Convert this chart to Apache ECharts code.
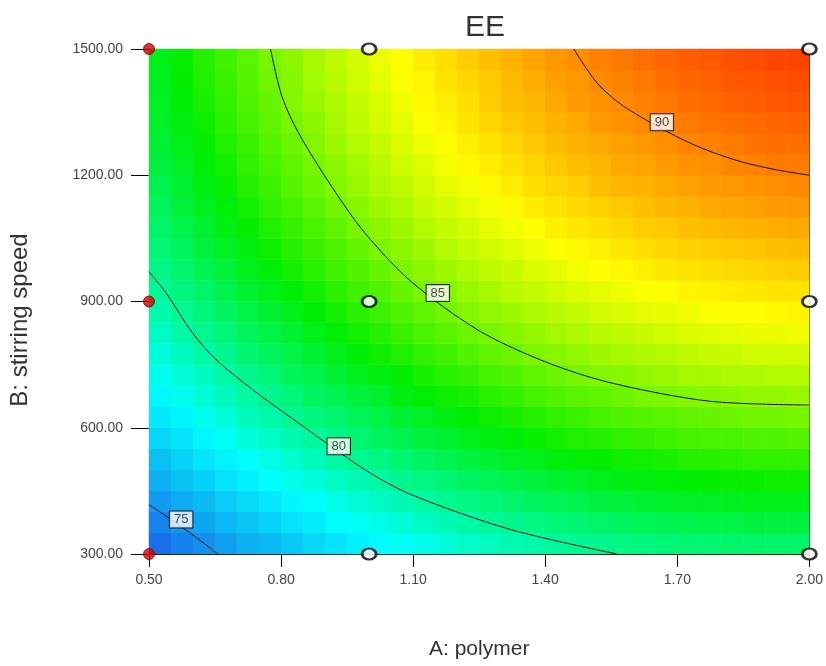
<!DOCTYPE html>
<html lang="en">
<head>
<meta charset="utf-8">
<title>EE</title>
<style>
    html, body { margin: 0; padding: 0; background: #ffffff; }
    #main { width: 826px; height: 666px; }
</style>
</head>
<body>
<div id="main"></div>
<script src="https://cdn.jsdelivr.net/npm/echarts@6/dist/echarts.min.js"></script>
<script>
    // cell centres of the response grid (A: polymer, B: stirring speed)
    const polymerMid = [0.525, 0.575, 0.625, 0.675, 0.725, 0.775, 0.825, 0.875, 0.925, 0.975,
        1.025, 1.075, 1.125, 1.175, 1.225, 1.275, 1.325, 1.375, 1.425, 1.475,
        1.525, 1.575, 1.625, 1.675, 1.725, 1.775, 1.825, 1.875, 1.925, 1.975];
    const speedMid = [325, 375, 425, 475, 525, 575, 625, 675, 725, 775, 825, 875,
        925, 975, 1025, 1075, 1125, 1175, 1225, 1275, 1325, 1375, 1425, 1475];

    const eeRows = [
        [74.1, 74.6, 75.0, 75.4, 75.9, 76.2, 76.6, 77.0, 77.3, 77.7, 78.0, 78.3, 78.5, 78.8, 79.1, 79.3, 79.5, 79.7, 79.9, 80.1, 80.2, 80.4, 80.5, 80.6, 80.7, 80.7, 80.8, 80.9, 80.9, 80.9],
        [74.7, 75.2, 75.6, 76.1, 76.5, 76.9, 77.3, 77.6, 78.0, 78.3, 78.6, 78.9, 79.2, 79.5, 79.7, 80.0, 80.2, 80.4, 80.6, 80.7, 80.9, 81.0, 81.2, 81.3, 81.4, 81.5, 81.5, 81.6, 81.6, 81.6],
        [75.3, 75.8, 76.2, 76.7, 77.1, 77.5, 77.9, 78.2, 78.6, 78.9, 79.2, 79.5, 79.8, 80.1, 80.4, 80.6, 80.8, 81.0, 81.2, 81.4, 81.6, 81.7, 81.8, 82.0, 82.1, 82.1, 82.2, 82.3, 82.3, 82.3],
        [75.9, 76.4, 76.8, 77.3, 77.7, 78.1, 78.5, 78.8, 79.2, 79.5, 79.8, 80.2, 80.4, 80.7, 81.0, 81.2, 81.5, 81.7, 81.9, 82.0, 82.2, 82.4, 82.5, 82.6, 82.7, 82.8, 82.9, 82.9, 83.0, 83.0],
        [76.4, 76.9, 77.4, 77.8, 78.2, 78.6, 79.0, 79.4, 79.8, 80.1, 80.4, 80.7, 81.0, 81.3, 81.6, 81.8, 82.1, 82.3, 82.5, 82.7, 82.8, 83.0, 83.1, 83.2, 83.4, 83.4, 83.5, 83.6, 83.6, 83.6],
        [77.0, 77.4, 77.9, 78.3, 78.8, 79.2, 79.6, 79.9, 80.3, 80.7, 81.0, 81.3, 81.6, 81.9, 82.2, 82.4, 82.6, 82.9, 83.1, 83.3, 83.4, 83.6, 83.7, 83.9, 84.0, 84.1, 84.1, 84.2, 84.2, 84.3],
        [77.5, 77.9, 78.4, 78.8, 79.3, 79.7, 80.1, 80.5, 80.8, 81.2, 81.5, 81.8, 82.1, 82.4, 82.7, 83.0, 83.2, 83.4, 83.6, 83.8, 84.0, 84.2, 84.3, 84.4, 84.5, 84.6, 84.7, 84.8, 84.8, 84.9],
        [77.9, 78.4, 78.9, 79.3, 79.8, 80.2, 80.6, 81.0, 81.3, 81.7, 82.0, 82.4, 82.7, 83.0, 83.2, 83.5, 83.7, 84.0, 84.2, 84.4, 84.5, 84.7, 84.9, 85.0, 85.1, 85.2, 85.3, 85.4, 85.4, 85.5],
        [78.4, 78.9, 79.3, 79.8, 80.2, 80.6, 81.1, 81.4, 81.8, 82.2, 82.5, 82.8, 83.2, 83.5, 83.7, 84.0, 84.2, 84.5, 84.7, 84.9, 85.1, 85.2, 85.4, 85.5, 85.7, 85.8, 85.9, 85.9, 86.0, 86.0],
        [78.8, 79.3, 79.8, 80.2, 80.7, 81.1, 81.5, 81.9, 82.3, 82.6, 83.0, 83.3, 83.6, 83.9, 84.2, 84.5, 84.7, 85.0, 85.2, 85.4, 85.6, 85.8, 85.9, 86.0, 86.2, 86.3, 86.4, 86.5, 86.5, 86.6],
        [79.2, 79.7, 80.2, 80.6, 81.1, 81.5, 81.9, 82.3, 82.7, 83.1, 83.4, 83.8, 84.1, 84.4, 84.7, 84.9, 85.2, 85.4, 85.7, 85.9, 86.1, 86.2, 86.4, 86.5, 86.7, 86.8, 86.9, 87.0, 87.0, 87.1],
        [79.6, 80.1, 80.6, 81.0, 81.5, 81.9, 82.3, 82.7, 83.1, 83.5, 83.8, 84.2, 84.5, 84.8, 85.1, 85.4, 85.6, 85.9, 86.1, 86.3, 86.5, 86.7, 86.9, 87.0, 87.1, 87.3, 87.4, 87.4, 87.5, 87.6],
        [80.0, 80.5, 80.9, 81.4, 81.9, 82.3, 82.7, 83.1, 83.5, 83.9, 84.2, 84.6, 84.9, 85.2, 85.5, 85.8, 86.1, 86.3, 86.5, 86.7, 86.9, 87.1, 87.3, 87.4, 87.6, 87.7, 87.8, 87.9, 88.0, 88.0],
        [80.3, 80.8, 81.3, 81.7, 82.2, 82.6, 83.1, 83.5, 83.9, 84.2, 84.6, 85.0, 85.3, 85.6, 85.9, 86.2, 86.4, 86.7, 86.9, 87.2, 87.4, 87.5, 87.7, 87.9, 88.0, 88.1, 88.2, 88.3, 88.4, 88.5],
        [80.6, 81.1, 81.6, 82.1, 82.5, 83.0, 83.4, 83.8, 84.2, 84.6, 85.0, 85.3, 85.6, 86.0, 86.3, 86.5, 86.8, 87.1, 87.3, 87.5, 87.7, 87.9, 88.1, 88.3, 88.4, 88.5, 88.6, 88.7, 88.8, 88.9],
        [80.9, 81.4, 81.9, 82.4, 82.8, 83.3, 83.7, 84.1, 84.5, 84.9, 85.3, 85.6, 86.0, 86.3, 86.6, 86.9, 87.2, 87.4, 87.7, 87.9, 88.1, 88.3, 88.5, 88.6, 88.8, 88.9, 89.0, 89.1, 89.2, 89.3],
        [81.1, 81.7, 82.2, 82.6, 83.1, 83.6, 84.0, 84.4, 84.8, 85.2, 85.6, 85.9, 86.3, 86.6, 86.9, 87.2, 87.5, 87.8, 88.0, 88.2, 88.4, 88.6, 88.8, 89.0, 89.1, 89.3, 89.4, 89.5, 89.6, 89.7],
        [81.4, 81.9, 82.4, 82.9, 83.4, 83.8, 84.3, 84.7, 85.1, 85.5, 85.9, 86.2, 86.6, 86.9, 87.2, 87.5, 87.8, 88.1, 88.3, 88.5, 88.8, 89.0, 89.1, 89.3, 89.5, 89.6, 89.7, 89.8, 89.9, 90.0],
        [81.6, 82.1, 82.6, 83.1, 83.6, 84.1, 84.5, 84.9, 85.3, 85.7, 86.1, 86.5, 86.8, 87.2, 87.5, 87.8, 88.1, 88.3, 88.6, 88.8, 89.0, 89.3, 89.4, 89.6, 89.8, 89.9, 90.1, 90.2, 90.3, 90.3],
        [81.8, 82.3, 82.8, 83.3, 83.8, 84.3, 84.7, 85.1, 85.6, 86.0, 86.3, 86.7, 87.1, 87.4, 87.7, 88.0, 88.3, 88.6, 88.9, 89.1, 89.3, 89.5, 89.7, 89.9, 90.1, 90.2, 90.3, 90.5, 90.6, 90.6],
        [82.0, 82.5, 83.0, 83.5, 84.0, 84.5, 84.9, 85.3, 85.8, 86.2, 86.6, 86.9, 87.3, 87.6, 88.0, 88.3, 88.6, 88.8, 89.1, 89.3, 89.6, 89.8, 90.0, 90.2, 90.3, 90.5, 90.6, 90.7, 90.8, 90.9],
        [82.1, 82.6, 83.2, 83.7, 84.2, 84.6, 85.1, 85.5, 85.9, 86.3, 86.7, 87.1, 87.5, 87.8, 88.1, 88.5, 88.8, 89.0, 89.3, 89.6, 89.8, 90.0, 90.2, 90.4, 90.6, 90.7, 90.9, 91.0, 91.1, 91.2],
        [82.2, 82.8, 83.3, 83.8, 84.3, 84.8, 85.2, 85.7, 86.1, 86.5, 86.9, 87.3, 87.6, 88.0, 88.3, 88.6, 88.9, 89.2, 89.5, 89.7, 90.0, 90.2, 90.4, 90.6, 90.8, 90.9, 91.1, 91.2, 91.3, 91.4],
        [82.3, 82.9, 83.4, 83.9, 84.4, 84.9, 85.3, 85.8, 86.2, 86.6, 87.0, 87.4, 87.8, 88.1, 88.5, 88.8, 89.1, 89.4, 89.7, 89.9, 90.2, 90.4, 90.6, 90.8, 91.0, 91.1, 91.3, 91.4, 91.5, 91.6]
    ];

    const polymerTicks = [0.5, 0.8, 1.1, 1.4, 1.7, 2.0];
    const speedTicks = [300, 600, 900, 1200, 1500];

    // contour lines, [polymer, speed]
    const contour75 = [[0.5, 417], [0.539, 390], [0.614, 334], [0.656, 300]];
    const contour80 = [[0.5, 971], [0.539, 920], [0.599, 825], [0.652, 762], [0.735, 691], [0.840, 611],
        [0.991, 500], [1.096, 441], [1.322, 358], [1.563, 300]];
    const contour85 = [[0.776, 1500], [0.802, 1387], [0.840, 1300], [0.915, 1173], [0.991, 1062], [1.096, 947],
        [1.246, 833], [1.397, 758], [1.548, 707], [1.774, 663], [2.0, 654]];
    const contour90 = [[1.465, 1500], [1.518, 1419], [1.578, 1364], [1.698, 1292], [1.774, 1257],
        [1.849, 1231], [1.925, 1213], [2.0, 1200]];
    const contourLabels = [[0.573, 382, '75'], [0.931, 556, '80'], [1.156, 920, '85'], [1.665, 1326, '90']];

    // design points
    const redPoints = [[0.5, 300], [0.5, 900], [0.5, 1500]];
    const whitePoints = [[1.0, 300], [1.0, 900], [1.0, 1500], [2.0, 300], [2.0, 900], [2.0, 1500]];

    const font = 'Liberation Sans, Arial, sans-serif';

    let heatData = [];
    for (let k = 0; k < eeRows.length; k++) {
        for (let i = 0; i < eeRows[k].length; i++) {
            heatData.push([i, k, eeRows[k][i]]);
        }
    }

    function contourSeries(points) {
        return {
            type: 'line',
            xAxisIndex: 0,
            yAxisIndex: 0,
            data: points,
            smooth: 0.3,
            symbol: 'none',
            lineStyle: { color: '#111111', width: 1 },
            z: 3,
            silent: true
        };
    }

    const chart = echarts.init(document.getElementById('main'));
    chart.setOption({
        animation: false,
        backgroundColor: '#ffffff',
        title: {
            text: 'EE',
            left: 480,
            top: 8,
            textAlign: 'center',
            textStyle: { fontSize: 30, fontWeight: 'normal', color: '#333333', fontFamily: font }
        },
        grid: { left: 149, right: 13, top: 49, bottom: 112 },
        visualMap: {
            type: 'continuous',
            show: false,
            seriesIndex: 0,
            min: 73.5,
            max: 92,
            inRange: { color: ['#1a5ae6', '#00ffff', '#00ee00', '#ffff00', '#ff3000'] }
        },
        xAxis: [
            {
                type: 'value', min: 0.5, max: 2.0, position: 'bottom',
                axisLine: { show: true, onZero: false, lineStyle: { color: '#000000', width: 1 } },
                axisTick: { show: true, length: 13, customValues: polymerTicks, lineStyle: { color: '#000000' } },
                axisLabel: {
                    customValues: polymerTicks, margin: 19, fontSize: 14, color: '#444444', fontFamily: font,
                    formatter: function (v) { return Number(v).toFixed(2); }
                },
                splitLine: { show: false },
                name: 'A: polymer', nameLocation: 'middle', nameGap: 85,
                nameTextStyle: { fontSize: 21, color: '#333333', fontFamily: font }
            },
            { type: 'category', data: polymerMid, show: false, position: 'bottom' },
            {
                type: 'value', min: 0.5, max: 2.0, position: 'top',
                axisLine: { show: true, onZero: false, lineStyle: { color: '#000000', width: 1 } },
                axisTick: { show: false }, axisLabel: { show: false }, splitLine: { show: false }
            }
        ],
        yAxis: [
            {
                type: 'value', min: 300, max: 1500, position: 'left',
                axisLine: { show: true, onZero: false, lineStyle: { color: '#000000', width: 1 } },
                axisTick: { show: true, length: 18, customValues: speedTicks, lineStyle: { color: '#000000' } },
                axisLabel: {
                    customValues: speedTicks, margin: 26, fontSize: 14, color: '#444444', fontFamily: font,
                    formatter: function (v) { return Number(v).toFixed(2); }
                },
                splitLine: { show: false },
                name: 'B: stirring speed', nameLocation: 'middle', nameGap: 117,
                nameTextStyle: { fontSize: 24, color: '#333333', fontFamily: font, padding: [0, 37, 0, 0] }
            },
            { type: 'category', data: speedMid, show: false, position: 'left' },
            {
                type: 'value', min: 300, max: 1500, position: 'right',
                axisLine: { show: true, onZero: false, lineStyle: { color: '#000000', width: 1 } },
                axisTick: { show: false }, axisLabel: { show: false }, splitLine: { show: false }
            }
        ],
        series: [
            {
                type: 'heatmap',
                xAxisIndex: 1,
                yAxisIndex: 1,
                data: heatData,
                itemStyle: { borderWidth: 0 },
                emphasis: { disabled: true },
                silent: true,
                z: 1
            },
            contourSeries(contour75),
            contourSeries(contour80),
            contourSeries(contour85),
            contourSeries(contour90),
            {
                type: 'scatter',
                xAxisIndex: 0,
                yAxisIndex: 0,
                data: contourLabels,
                symbol: 'rect',
                symbolSize: 1,
                itemStyle: { color: 'rgba(0,0,0,0)' },
                label: {
                    show: true,
                    position: 'inside',
                    formatter: function (p) { return p.value[2]; },
                    backgroundColor: '#ffffff',
                    borderColor: '#000000',
                    borderWidth: 1,
                    padding: [2, 4, 1, 4],
                    fontSize: 13,
                    color: '#222222',
                    fontFamily: font
                },
                z: 4,
                silent: true
            },
            {
                type: 'scatter',
                xAxisIndex: 0,
                yAxisIndex: 0,
                data: redPoints,
                symbol: 'circle',
                symbolSize: 11,
                itemStyle: { color: '#d40000', borderColor: '#7a0000', borderWidth: 1 },
                clip: false,
                z: 5,
                silent: true
            },
            {
                type: 'scatter',
                xAxisIndex: 0,
                yAxisIndex: 0,
                data: whitePoints,
                symbol: 'circle',
                symbolSize: [14, 11],
                itemStyle: { color: '#ffffff', borderColor: '#000000', borderWidth: 2.5 },
                clip: false,
                z: 5,
                silent: true
            }
        ]
    });
</script>
</body>
</html>
